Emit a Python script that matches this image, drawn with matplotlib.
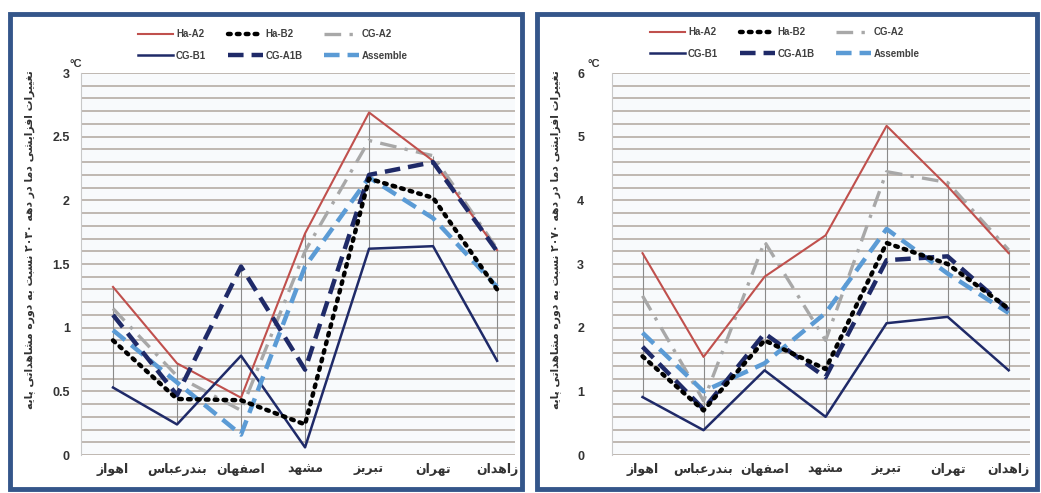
import numpy as np
import matplotlib
matplotlib.use('Agg')
import matplotlib.pyplot as plt
from matplotlib.patches import Rectangle

# DATA
cities = ['اهواز', 'بندرعباس', 'اصفهان', 'مشهد', 'تبریز', 'تهران', 'زاهدان']
series_names = ['Ha-A2', 'Ha-B2', 'CG-A2', 'CG-B1', 'CG-A1B', 'Assemble']

# decade 2030 (left panel)
ha_a2_l = [1.32, 0.72, 0.45, 1.74, 2.69, 2.31, 1.61]
ha_b2_l = [0.90, 0.44, 0.43, 0.24, 2.17, 2.02, 1.30]
cg_a2_l = [1.15, 0.62, 0.35, 1.60, 2.47, 2.35, 1.62]
cg_b1_l = [0.53, 0.24, 0.78, 0.06, 1.62, 1.64, 0.74]
cg_a1b_l = [1.10, 0.47, 1.48, 0.67, 2.20, 2.30, 1.60]
assemble_l = [0.98, 0.57, 0.16, 1.48, 2.18, 1.86, 1.32]

# decade 2070 (right panel)
ha_a2_r = [3.17, 1.54, 2.80, 3.45, 5.17, 4.22, 3.17]
ha_b2_r = [1.55, 0.70, 1.80, 1.35, 3.33, 3.00, 2.30]
cg_a2_r = [2.50, 0.85, 3.35, 1.80, 4.45, 4.28, 3.22]
cg_b1_r = [0.91, 0.39, 1.33, 0.60, 2.07, 2.17, 1.33]
cg_a1b_r = [1.70, 0.72, 1.91, 1.22, 3.06, 3.12, 2.28]
assemble_r = [1.92, 1.00, 1.44, 2.23, 3.55, 2.85, 2.23]

ylabel_l = 'تغییرات افزایشی دما در دهه ۲۰۳۰ نسبت به دوره مشاهداتی پایه'
ylabel_r = 'تغییرات افزایشی دما در دهه ۲۰۷۰ نسبت به دوره مشاهداتی پایه'

# Persian letters -> (isolated, final, initial, medial) presentation forms
FORMS = {
    'ا': ('\uFE8D', '\uFE8E', None, None),
    'ب': ('\uFE8F', '\uFE90', '\uFE91', '\uFE92'),
    'پ': ('\uFB56', '\uFB57', '\uFB58', '\uFB59'),
    'ت': ('\uFE95', '\uFE96', '\uFE97', '\uFE98'),
    'د': ('\uFEA9', '\uFEAA', None, None),
    'ر': ('\uFEAD', '\uFEAE', None, None),
    'ز': ('\uFEAF', '\uFEB0', None, None),
    'س': ('\uFEB1', '\uFEB2', '\uFEB3', '\uFEB4'),
    'ش': ('\uFEB5', '\uFEB6', '\uFEB7', '\uFEB8'),
    'ص': ('\uFEB9', '\uFEBA', '\uFEBB', '\uFEBC'),
    'ع': ('\uFEC9', '\uFECA', '\uFECB', '\uFECC'),
    'غ': ('\uFECD', '\uFECE', '\uFECF', '\uFED0'),
    'ف': ('\uFED1', '\uFED2', '\uFED3', '\uFED4'),
    'م': ('\uFEE1', '\uFEE2', '\uFEE3', '\uFEE4'),
    'ن': ('\uFEE5', '\uFEE6', '\uFEE7', '\uFEE8'),
    'ه': ('\uFEE9', '\uFEEA', '\uFEEB', '\uFEEC'),
    'و': ('\uFEED', '\uFEEE', None, None),
    'ی': ('\uFEEF', '\uFEF0', '\uFEF3', '\uFEF4'),
}


def shape_word(w):
    out = []
    for i, c in enumerate(w):
        if c not in FORMS:
            out.append(c)
            continue
        prev = w[i - 1] if i > 0 else None
        nxt = w[i + 1] if i + 1 < len(w) else None
        jp = prev in FORMS and FORMS[prev][2] is not None
        jn = nxt in FORMS and FORMS[c][2] is not None
        iso, fin, ini, med = FORMS[c]
        if jp and jn:
            out.append(med)
        elif jp:
            out.append(fin)
        elif jn:
            out.append(ini)
        else:
            out.append(iso)
    return ''.join(out)


def fa(text):
    # shape and put in visual (left-to-right) order
    words = []
    for w in reversed(text.split(' ')):
        if w[0] in '۰۱۲۳۴۵۶۷۸۹':
            words.append(w)
        else:
            words.append(shape_word(w)[::-1])
    return ' '.join(words)


plt.rcParams['font.family'] = ['Liberation Sans', 'DejaVu Sans']

styles = {
    'Ha-A2': dict(color='#c0504d', lw=1.5, ls='-'),
    'Ha-B2': dict(color='black', lw=3.2, ls=(0, (0.6, 1.4)), dash_capstyle='round'),
    'CG-A2': dict(color='#a8a8a8', lw=2.4, ls=(0, (5, 2.5, 1, 2.5))),
    'CG-B1': dict(color='#1f2a68', lw=1.8, ls='-'),
    'CG-A1B': dict(color='#1f2a68', lw=3.2, ls=(0, (3.5, 1.8))),
    'Assemble': dict(color='#5b9bd5', lw=3.2, ls=(0, (3.5, 1.8))),
}
draw_order = ['CG-A2', 'Ha-A2', 'CG-B1', 'Assemble', 'CG-A1B', 'Ha-B2']

W, H = 1041, 493
fig = plt.figure(figsize=(W / 100, H / 100), dpi=100)

panels = [
    dict(rect=(81, 73, 515, 455), xmax=6.28, ymax=3, major=0.5, minor=0.1, pad=8,
         data=[ha_a2_l, ha_b2_l, cg_a2_l, cg_b1_l, cg_a1b_l, assemble_l],
         ylabel=ylabel_l, ylab_x=30, legend_c=(273, 45), unit_x=70,
         yticklabels=['0', '0.5', '1', '1.5', '2', '2.5', '3'], box=(10, 14, 522, 489)),
    dict(rect=(612, 73, 1030, 455), xmax=6.35, ymax=6, major=1, minor=0.2, pad=20,
         data=[ha_a2_r, ha_b2_r, cg_a2_r, cg_b1_r, cg_a1b_r, assemble_r],
         ylabel=ylabel_r, ylab_x=556, legend_c=(785, 43), unit_x=588,
         yticklabels=['0', '1', '2', '3', '4', '5', '6'], box=(537, 14, 1037, 489)),
]

x = np.arange(len(cities))

for p in panels:
    x0, y0, x1, y1 = p['rect']
    ax = fig.add_axes([x0 / W, 1 - y1 / H, (x1 - x0) / W, (y1 - y0) / H])
    ax.set_facecolor('#f8fafc')
    ax.set_xlim(-0.5, p['xmax'])
    ax.set_ylim(0, p['ymax'])

    # horizontal gridlines
    ax.set_yticks(np.arange(0, p['ymax'] + 1e-9, p['major']))
    ax.set_yticks(np.arange(0, p['ymax'] + 1e-9, p['minor']), minor=True)
    ax.grid(True, axis='y', which='both', color='#bfb8b1', lw=1.4)
    ax.set_axisbelow(True)
    ax.set_yticklabels(p['yticklabels'], fontsize=9, fontweight='bold', color='#333333')
    ax.tick_params(axis='y', which='both', length=0, pad=p['pad'])

    ax.set_xticks(x)
    ax.set_xticklabels([fa(c) for c in cities], fontsize=9, fontweight='bold', color='#333333')
    ax.tick_params(axis='x', length=0, pad=6)
    for s in ['top', 'right', 'bottom']:
        ax.spines[s].set_visible(False)
    ax.spines['left'].set_color('#c8c8c8')

    values = dict(zip(series_names, p['data']))
    # high-low lines
    arr = np.array(p['data'])
    ax.vlines(x, arr.min(axis=0), arr.max(axis=0), color='#8a8a8a', lw=0.8, zorder=2)

    handles = {}
    for name in draw_order:
        ln, = ax.plot(x, values[name], label=name, zorder=3, **styles[name])
        handles[name] = ln

    order = ['Ha-A2', 'CG-B1', 'Ha-B2', 'CG-A1B', 'CG-A2', 'Assemble']
    lx, ly = p['legend_c']
    fig.legend([handles[n] for n in order], order, ncol=3, loc='center',
               bbox_to_anchor=(lx / W, 1 - ly / H), frameon=False,
               prop=dict(size=7, weight='bold'), labelcolor='#404040',
               handlelength=3.6, handletextpad=0.3, columnspacing=2.2, labelspacing=1.2)

    fig.text(p['ylab_x'] / W, 1 - 240 / H, fa(p['ylabel']), rotation=90,
             ha='center', va='center', fontsize=7.8, fontweight='bold', color='#333333',
             family=['DejaVu Sans'])
    fig.text(p['unit_x'] / W, 1 - 64 / H, '°C', fontsize=8, fontweight='bold',
             color='#333333', ha='left', va='center')

    bx0, by0, bx1, by1 = p['box']
    fig.add_artist(Rectangle((bx0 / W, 1 - by1 / H), (bx1 - bx0) / W, (by1 - by0) / H,
                             transform=fig.transFigure, fill=False, ec='#34568a', lw=3.5))

fig.savefig('out.png', dpi=100)
plt.close('all')
